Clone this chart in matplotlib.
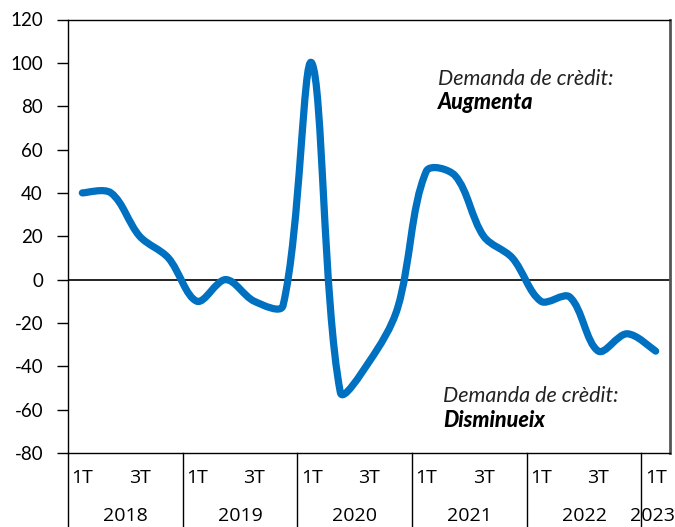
import numpy as np
import matplotlib
matplotlib.use('Agg')
import matplotlib.pyplot as plt
import matplotlib.transforms as mtrans
from matplotlib.path import Path
from matplotlib.patches import PathPatch

# quarterly balance of credit demand, 2018 1T .. 2023 1T
years = ['2018', '2019', '2020', '2021', '2022', '2023']
quarter_labels = ['1T', '', '3T', ''] * 5 + ['1T']
values = [40, 40, 20, 10,
          -10, 0, -10, -12,
          100, -52, -38, -13,
          50, 48, 20, 10,
          -10, -8, -33, -25,
          -33]
y_ticks = list(range(-80, 121, 20))

plt.rcParams['axes.unicode_minus'] = False

x = np.arange(len(values))
y = np.array(values, dtype=float)


# smooth line through the points: bezier segments, control arms scaled
# by segment length (done in pixel-like units so big jumps don't overshoot)
def smooth_path(xs, ys, sx=28.67, sy=2.17):
    pts = np.column_stack([xs * sx, ys * sy])
    n = len(pts)
    verts = [pts[0]]
    codes = [Path.MOVETO]
    for i in range(n - 1):
        p0 = pts[max(i - 1, 0)]
        p1 = pts[i]
        p2 = pts[i + 1]
        p3 = pts[min(i + 2, n - 1)]
        d01 = np.hypot(*(p1 - p0))
        d12 = np.hypot(*(p2 - p1))
        d23 = np.hypot(*(p3 - p2))
        f1 = d12 / (d01 + d12) / 3 if d01 > 0 else 1 / 6
        f2 = d12 / (d12 + d23) / 3 if d23 > 0 else 1 / 6
        verts += [p1 + (p2 - p0) * f1, p2 - (p3 - p1) * f2, p2]
        codes += [Path.CURVE4] * 3
    verts = np.array(verts) / np.array([sx, sy])
    return Path(verts, codes)


fig = plt.figure(figsize=(6.75, 5.27), dpi=100)
ax = fig.add_axes([68 / 675, 1 - 453 / 527, 602 / 675, 433.5 / 527])

ax.add_patch(PathPatch(smooth_path(x, y), facecolor='none', edgecolor='#0070C0',
                       lw=5.2, capstyle='round', joinstyle='round', zorder=3))
ax.axhline(0, color='black', lw=1.2, zorder=2)

ax.set_xlim(-0.5, 20.5)
ax.set_ylim(-80, 120)
ax.set_yticks(y_ticks)
ax.set_yticklabels([str(t) for t in y_ticks], fontfamily='Lato', fontsize=13.5)
ax.tick_params(axis='y', direction='out', length=8, width=1, pad=10, color='black')
ax.set_xticks([])

for side in ['left', 'top', 'bottom']:
    ax.spines[side].set_color('black')
    ax.spines[side].set_linewidth(1)
ax.spines['right'].set_color('#555555')
ax.spines['right'].set_linewidth(2)

# two-tier category axis
trans = mtrans.blended_transform_factory(ax.transData, ax.transAxes)
for xb in [-0.5, 3.5, 7.5, 11.5, 15.5, 19.5]:
    ax.plot([xb, xb], [0, -0.2], color='black', lw=1, transform=trans, clip_on=False)

for i, lab in enumerate(quarter_labels):
    if lab:
        ax.text(i, -0.058, lab, transform=trans, ha='center', va='center',
                fontfamily='Open Sans', fontsize=14)

for k, yr in enumerate(years):
    xc = 1.5 + 4 * k if k < 5 else 19.88
    ax.text(xc, -0.146, yr, transform=trans, ha='center', va='center',
            fontfamily='Open Sans', fontsize=14, clip_on=False)

# annotations
note = dict(fontfamily='Lato', fontstyle='italic', fontsize=15.5, va='baseline')
ax.text(12.4, 90, 'Demanda de crèdit:', fontweight='normal', color='#222222', **note)
ax.text(12.4, 78.5, 'Augmenta', fontweight='black', **note)
ax.text(12.58, -56.5, 'Demanda de crèdit:', fontweight='normal', color='#222222', **note)
ax.text(12.58, -68, 'Disminueix', fontweight='black', **note)

fig.savefig('out.png', dpi=100)
